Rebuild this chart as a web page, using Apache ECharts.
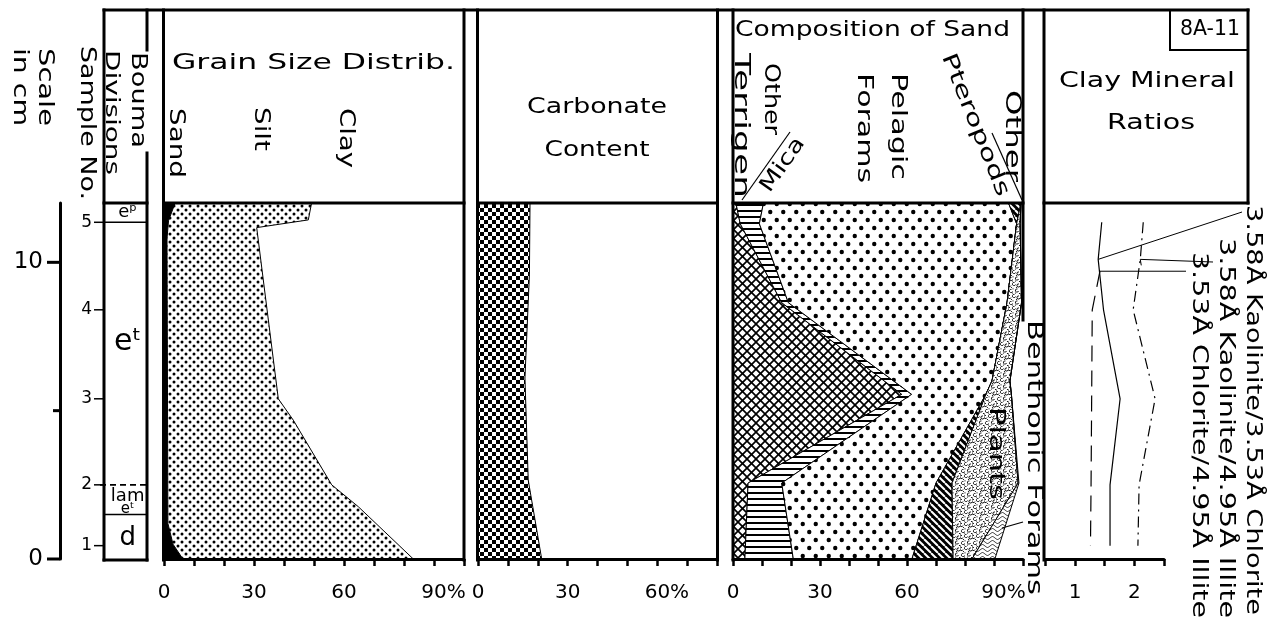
<!DOCTYPE html>
<html><head><meta charset="utf-8">
<script src="https://cdn.jsdelivr.net/npm/echarts@6/dist/echarts.min.js"></script>
<style>html,body{margin:0;padding:0;background:#fff}#c{width:1272px;height:634px}</style>
</head><body><div id="c"></div>
<script>
// ---------------- DATA ----------------
const depthMaxCm = 12;
const scaleTickCm = [0, 5, 10];
const scaleTickLabel = ['0', '', '10'];
const sampleNo = [1, 2, 3, 4, 5];
const sampleDepth = [0.45, 2.5, 5.4, 8.4, 11.35];
const boumaBoundDepth = [11.35, 2.5, 1.5];
const boumaLabel = ['eᵖ', 'eᵗ', 'lam', 'eᵗ', 'd'];
const boumaLabelDepth = [11.7, 7.3, 2.1, 1.68, 0.7];

// Grain size (cumulative %)
const sandDepth = [12, 11.4, 10.8, 1.2, 0.5, 0];
const sandPct = [3.7, 1.5, 1.0, 1.3, 3.0, 6.3];
const siltDepth = [12, 11.43, 11.17, 5.4, 4.68, 2.5, 1.76, 0];
const siltCumPct = [49.2, 48.1, 30.9, 38.1, 43.1, 55.9, 64.8, 83.1];

// Carbonate content (%)
const carbDepth = [12, 9.6, 6.1, 2.66, 0];
const carbPct = [17.4, 17.2, 15.7, 16.8, 21.3];

// Composition of sand (cumulative %)
const compDepth = [12, 11.3, 8.64, 6.0, 5.55, 2.56, 0];
const terrigenCum = [1.0, 2.5, 16.8, 52.2, 58.2, 5.2, 4.1];
const micaCum = [10.5, 9.1, 19.1, 55.4, 61.6, 16.8, 20.8];
const pelagicCum = [95.0, 97.8, 94.5, 89.3, 87.2, 70.0, 61.7];
const pteropodCum = [99.3, 97.8, 94.5, 89.3, 87.2, 75.5, 75.9];
const plantsCum = [99.3, 99.0, 99.5, 95.5, 96.0, 98.3, 82.4];
const benthonicCum = [99.3, 99.0, 99.5, 95.5, 96.0, 98.6, 90.3];

// Clay mineral ratios
const clayDepth = [11.35, 10.1, 8.4, 5.4, 2.5, 0.45];
const kaolChlorRatio = [1.45, 1.39, 1.48, 1.76, 1.59, 1.59];
const kaolIlliteRatio = [2.15, 2.10, 1.98, 2.35, 2.08, 2.06];
const chlorIlliteDepth = [9.7, 8.4, 5.4, 2.5, 0.45];
const chlorIlliteRatio = [1.42, 1.29, 1.28, 1.27, 1.26];

const edgeDepth = [12, 0];
const zeroPct = [0, 0];

// ---------------- STYLE ----------------
const FONT = '"DejaVu Sans", sans-serif';
const mctx = document.createElement('canvas').getContext('2d');
function tw(text, size) { mctx.font = size + 'px ' + FONT; return mctx.measureText(text).width; }

function pat(w, h, fn) {
  const c = document.createElement('canvas'); c.width = w; c.height = h;
  const g = c.getContext('2d'); g.fillStyle = '#fff'; g.fillRect(0, 0, w, h);
  g.fillStyle = '#000'; g.strokeStyle = '#000'; fn(g, w, h);
  return { image: c, repeat: 'repeat' };
}
function dot(g, x, y, r) { g.beginPath(); g.arc(x, y, r, 0, Math.PI * 2); g.fill(); }
function seg(g, x1, y1, x2, y2) { g.beginPath(); g.moveTo(x1, y1); g.lineTo(x2, y2); g.stroke(); }

const siltFill = pat(8, 8, g => { dot(g, 2, 2, 1.5); dot(g, 6, 6, 1.5); });
const carbFill = pat(8, 8, g => { g.fillRect(0, 0, 4, 4); g.fillRect(4, 4, 4, 4); });
const crossFill = pat(9, 9, g => { g.lineWidth = 1.7; for (let k = -1; k <= 1; k++) { seg(g, k * 9, 0, k * 9 + 9, 9); seg(g, k * 9 + 9, 0, k * 9, 9); } });
const micaFill = pat(6, 6, g => { g.fillRect(0, 0, 6, 2); });
const pelagicFill = pat(13, 16, g => { dot(g, 3.25, 4, 2.2); dot(g, 9.75, 12, 2.2); });
const pteroFill = pat(7, 7, g => { g.fillRect(0, 0, 7, 7); g.strokeStyle = '#fff'; g.lineWidth = 2; for (let k = -1; k <= 1; k++) seg(g, k * 7, 0, k * 7 + 7, 7); });
const plantsFill = pat(12, 12, g => {
  g.lineWidth = 0.9;
  [[3, 3], [9, 2.5], [6, 8], [10.5, 9.5], [1.5, 9]].forEach(p => { g.beginPath(); g.arc(p[0], p[1], 1.6, 0.3, Math.PI * 1.6); g.stroke(); });
  [[0.5, 6], [5, 0.8], [7.5, 5], [11.5, 5.5], [3.5, 11.5], [8.5, 11.5], [4.5, 5]].forEach(p => dot(g, p[0], p[1], 0.6));
});
const benthFill = pat(10, 4, g => { g.lineWidth = 0.8; g.beginPath(); g.moveTo(0, 2); g.bezierCurveTo(2.5, 0, 2.5, 0, 5, 2); g.bezierCurveTo(7.5, 4, 7.5, 4, 10, 2); g.stroke(); });

// ---------------- CHART ----------------
const chart = echarts.init(document.getElementById('c'), null, { renderer: 'canvas', width: 1272, height: 634 });
const TOP = 203, H = 356;
const grids = [
  { left: 60, top: TOP, width: 10, height: H },        // scale
  { left: 104, top: TOP, width: 43, height: H },       // bouma
  { left: 164, top: TOP, width: 300, height: H },      // grain
  { left: 478, top: TOP, width: 239.2, height: H },    // carbonate
  { left: 733, top: TOP, width: 290, height: H },      // composition
  { left: 1045.4, top: TOP, width: 118.6, height: H }  // clay
];
const pctLabel = (v, list, last) => v === last ? '{h|%}' + v + '%' : (list.indexOf(v) >= 0 ? String(v) : '');
const rich = { h: { color: 'transparent', fontSize: 20, fontFamily: FONT } };
function xAx(gi, min, max, interval, fmt) {
  return {
    gridIndex: gi, type: 'value', min, max, interval, z: 10,
    axisLine: { show: true, onZero: false, lineStyle: { color: '#000', width: 3 } },
    axisTick: { show: true, length: 7, lineStyle: { color: '#000', width: 2.5 } },
    axisLabel: { show: true, formatter: fmt, color: '#000', fontSize: 20, fontFamily: FONT, margin: 24, rich },
    splitLine: { show: false }
  };
}
const xAxes = [
  { gridIndex: 0, type: 'value', min: 0, max: 1, show: false },
  { gridIndex: 1, type: 'value', min: 0, max: 1, show: false },
  xAx(2, 0, 100, 10, v => pctLabel(v, [0, 30, 60], 90)),
  xAx(3, 0, 80, 10, v => pctLabel(v, [0, 30], 60)),
  xAx(4, 0, 100, 10, v => pctLabel(v, [0, 30, 60], 90)),
  xAx(5, 0.5, 2.5, 0.5, v => (v === 1 || v === 2) ? String(v) : '')
];
const yAxes = grids.map((g, i) => ({
  gridIndex: i, type: 'value', min: 0, max: depthMaxCm, show: i === 0, position: 'left',
  axisLine: { show: true, lineStyle: { color: '#000', width: 3 } },
  axisTick: { show: false }, axisLabel: { show: false }, splitLine: { show: false }
}));

function layer(gi, lD, lV, rD, rV, fill) {
  const data = [];
  lV.forEach((v, i) => data.push([v, lD[i], 0]));
  rV.forEach((v, i) => data.push([v, rD[i], 1]));
  return {
    type: 'custom', xAxisIndex: gi, yAxisIndex: gi, data, encode: { x: 0, y: 1 }, silent: true, z: 2,
    renderItem(params, api) {
      if (params.dataIndexInside !== 0) return null;
      const L = [], R = [];
      for (let i = 0; i < params.dataInsideLength; i++) {
        const pt = api.coord([api.value(0, i), api.value(1, i)]);
        (api.value(2, i) === 0 ? L : R).push(pt);
      }
      return { type: 'polygon', shape: { points: L.concat(R.reverse()) }, style: { fill, stroke: '#000', lineWidth: 1 } };
    }
  };
}
function txtEl(x, y, text, size, align) {
  return { type: 'text', x, y, style: { text, font: size + 'px ' + FONT, fill: '#000', align, verticalAlign: 'middle', textAlign: align, textVerticalAlign: 'middle' } };
}
const boumaLabelSize = [18, 30, 18, 15, 26];
const scaleTickLen = [13, 7, 13];

const series = [
  { // scale ticks
    type: 'custom', xAxisIndex: 0, yAxisIndex: 0, silent: true, encode: { x: 0, y: 1 },
    data: scaleTickCm.map((d, i) => [0, d, i]),
    renderItem(p, api) {
      const c = api.coord([0, api.value(1)]); const i = api.value(2);
      return { type: 'group', children: [
        { type: 'line', shape: { x1: c[0] - scaleTickLen[i], y1: c[1], x2: c[0], y2: c[1] }, style: { stroke: '#000', lineWidth: 3 } },
        txtEl(c[0] - 17, c[1], scaleTickLabel[i], 23, 'right')] };
    }
  },
  { // sample ticks
    type: 'custom', xAxisIndex: 1, yAxisIndex: 1, silent: true, encode: { x: 0, y: 1 },
    data: sampleDepth.map((d, i) => [0, d, sampleNo[i]]),
    renderItem(p, api) {
      const c = api.coord([0, api.value(1)]);
      return { type: 'group', children: [
        { type: 'line', shape: { x1: c[0] - 10, y1: c[1], x2: c[0], y2: c[1] }, style: { stroke: '#000', lineWidth: 1.5 } },
        txtEl(c[0] - 12, c[1], String(api.value(2)), 17, 'right')] };
    }
  },
  { // bouma boundaries
    type: 'custom', xAxisIndex: 1, yAxisIndex: 1, silent: true, encode: { x: 0, y: 1 },
    data: boumaBoundDepth.map((d, i) => [0, d, i]),
    renderItem(p, api) {
      const a = api.coord([0, api.value(1)]), b = api.coord([1, api.value(1)]);
      const dashed = api.value(2) === 1;
      return { type: 'line', shape: { x1: a[0] - (dashed ? 4 : 0), y1: a[1], x2: b[0], y2: b[1] }, style: { stroke: '#000', lineWidth: 1.6, lineDash: dashed ? [6, 4] : null } };
    }
  },
  { // bouma labels
    type: 'custom', xAxisIndex: 1, yAxisIndex: 1, silent: true, encode: { x: 0, y: 1 },
    data: boumaLabelDepth.map((d, i) => [0.55, d, i]),
    renderItem(p, api) {
      const c = api.coord([api.value(0), api.value(1)]); const i = api.value(2);
      return txtEl(c[0], c[1], boumaLabel[i], boumaLabelSize[i], 'center');
    }
  },
  layer(2, edgeDepth, zeroPct, sandDepth, sandPct, '#000'),
  layer(2, sandDepth, sandPct, siltDepth, siltCumPct, siltFill),
  layer(3, edgeDepth, zeroPct, carbDepth, carbPct, carbFill),
  layer(4, edgeDepth, zeroPct, compDepth, terrigenCum, crossFill),
  layer(4, compDepth, terrigenCum, compDepth, micaCum, micaFill),
  layer(4, compDepth, micaCum, compDepth, pelagicCum, pelagicFill),
  layer(4, compDepth, pelagicCum, compDepth, pteropodCum, pteroFill),
  layer(4, compDepth, pteropodCum, compDepth, plantsCum, plantsFill),
  layer(4, compDepth, plantsCum, compDepth, benthonicCum, benthFill),
  { type: 'line', xAxisIndex: 5, yAxisIndex: 5, showSymbol: false, silent: true, data: kaolChlorRatio.map((v, i) => [v, clayDepth[i]]), lineStyle: { color: '#000', width: 1.2 } },
  { type: 'line', xAxisIndex: 5, yAxisIndex: 5, showSymbol: false, silent: true, data: kaolIlliteRatio.map((v, i) => [v, clayDepth[i]]), lineStyle: { color: '#000', width: 1.2, type: [11, 5, 2, 5] } },
  { type: 'line', xAxisIndex: 5, yAxisIndex: 5, showSymbol: false, silent: true, data: chlorIlliteRatio.map((v, i) => [v, chlorIlliteDepth[i]]), lineStyle: { color: '#000', width: 1.2, type: [16, 9] } }
];

chart.setOption({ animation: false, backgroundColor: '#fff', textStyle: { fontFamily: FONT }, grid: grids, xAxis: xAxes, yAxis: yAxes, series });

// ---------------- FRAME, HEADERS, ANNOTATIONS ----------------
const G = [];
const CW = -Math.PI / 2;
function L(x1, y1, x2, y2, w) { G.push({ type: 'line', silent: true, z: 20, shape: { x1, y1, x2, y2 }, style: { stroke: '#000', lineWidth: w || 3, lineCap: (w || 3) >= 2 ? 'square' : 'butt' } }); }
function T(text, x, y, size, len, o) {
  o = o || {};
  const sx = len ? len / tw(text, size) : 1;
  G.push({ type: 'text', silent: true, z: 30, x, y, rotation: o.rot || 0, scaleX: sx,
    style: { text, fill: '#000', font: size + 'px ' + FONT, align: o.align || 'left', verticalAlign: 'middle', textAlign: o.align || 'left', textVerticalAlign: 'middle' } });
}
// frame
L(104, 10, 1248, 10);
L(104, 10, 104, 560); L(147, 10, 147, 50); L(147, 153, 147, 560); L(104, 203, 147, 203); L(104, 560, 147, 560);
L(163.5, 10, 163.5, 560); L(464, 10, 464, 560); L(163.5, 203, 464, 203);
L(477.5, 10, 477.5, 560); L(717.5, 10, 717.5, 560); L(477.5, 203, 717.5, 203);
L(733, 10, 733, 560); L(1023, 10, 1023, 320); L(733, 203, 1023, 203);
L(1044, 10, 1044, 560); L(1248, 10, 1248, 203); L(1044, 203, 1248, 203);
L(1170, 10, 1170, 50, 2); L(1170, 50, 1248, 50, 2);
// header separators
L(742, 200, 790, 132, 1.2); L(992, 133, 1022, 200, 1.2);

// left headers
T('Scale', 45, 48, 22, 78, { rot: CW });
T('in cm', 20, 48, 22, 78, { rot: CW });
T('Sample No.', 87, 46, 22, 154, { rot: CW });
T('Bouma', 137, 52, 21, 96, { rot: CW });
T('Divisions', 111, 50, 19, 125, { rot: CW });
// grain
T('Grain Size Distrib.', 172, 64, 21, 283);
T('Sand', 175, 108, 21, 70, { rot: CW });
T('Silt', 260, 107, 21, 44, { rot: CW });
T('Clay', 345, 108, 21, 60, { rot: CW });
// carbonate
T('Carbonate', 597, 108, 21, 140, { align: 'center' });
T('Content', 597, 151, 21, 105, { align: 'center' });
// composition
T('Composition of Sand', 735, 31, 21, 275);
T('Other', 770, 63, 21, 72, { rot: CW });
T('Terrigen', 740, 53, 21, 145, { rot: CW });
T('Mica', 783, 165, 21, 62, { rot: 0.956, align: 'center' });
T('Pelagic', 897, 73, 21, 107, { rot: CW });
T('Forams', 863, 73, 21, 110, { rot: CW });
T('Pteropods', 975, 125, 21, 152, { rot: -1.19, align: 'center' });
T('Other', 1011, 90, 21, 92, { rot: CW });
T('Plants', 995, 407, 21, 93, { rot: CW });
T('Benthonic Forams', 1033, 320, 21, 275, { rot: CW });
L(1002, 528, 1023, 522, 1.2);
// clay
T('Clay Mineral', 1147, 82, 21, 176, { align: 'center' });
T('Ratios', 1151, 124, 21, 88, { align: 'center' });
T('8A-11', 1210, 30, 21, 60, { align: 'center' });
T('3.58Å Kaolinite/3.53Å Chlorite', 1252, 205, 21, 410, { rot: CW });
T('3.58Å Kaolinite/4.95Å Illite', 1225, 238, 21, 380, { rot: CW });
T('3.53Å Chlorite/4.95Å Illite', 1198, 252, 21, 366, { rot: CW });
const px = (v, d) => chart.convertToPixel({ xAxisIndex: 5, yAxisIndex: 5 }, [v, d]);
const a1 = px(kaolChlorRatio[1], clayDepth[1]);
const a2 = px(kaolIlliteRatio[1], clayDepth[1]);
const a3 = px(chlorIlliteRatio[0], chlorIlliteDepth[0]);
L(1242, 212, a1[0], a1[1], 1);
L(1213, 262, a2[0], a2[1], 1);
L(a2[0], a2[1], a2[0] + 1, a2[1] + 6, 1);
L(1186, a3[1], a3[0], a3[1], 1);

chart.setOption({ graphic: G });
</script>
</body></html>
